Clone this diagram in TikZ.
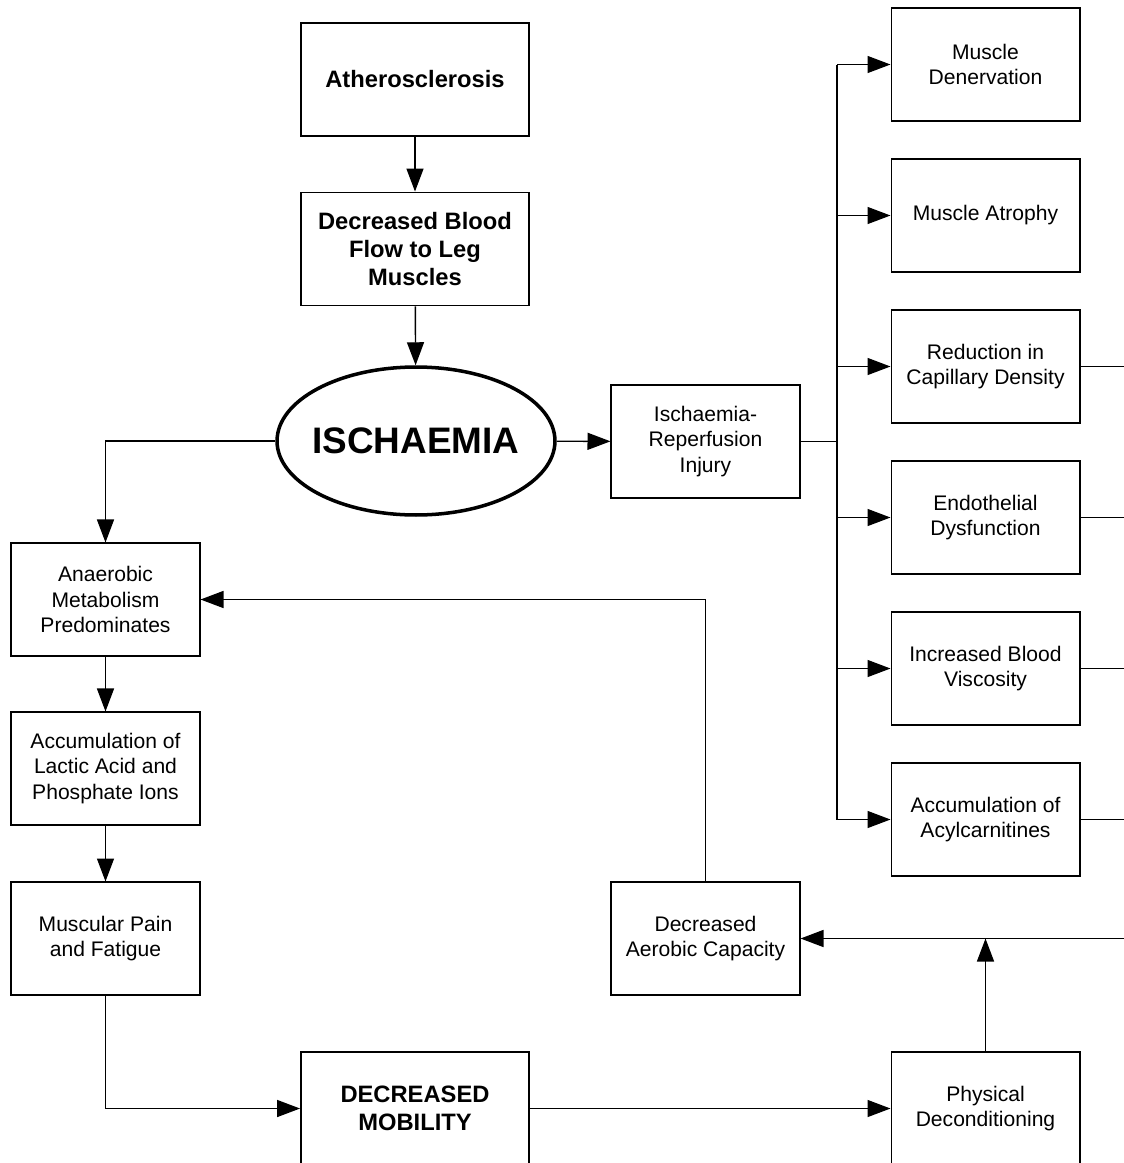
\documentclass[tikz,border=0pt]{standalone}
\usepackage{fontspec}
\setmainfont{Liberation Sans}
\usetikzlibrary{shapes.geometric,arrows.meta,positioning}

\begin{document}
\begin{tikzpicture}[x=0.02cm,y=-0.02cm,
  box/.style={rectangle,draw,line width=0.6pt,minimum width=3.78cm,
    minimum height=2.26cm,align=center,inner sep=2pt,
    font=\fontsize{12}{14.4}\selectfont},
  bigbox/.style={rectangle,draw,line width=1.1pt,minimum width=4.56cm,
    minimum height=2.26cm,align=center,inner sep=2pt,
    font=\fontsize{13.5}{16.2}\selectfont\bfseries},
  arr/.style={-{Triangle[length=0.46cm,width=0.34cm]},line width=0.8pt},
  wire/.style={line width=0.8pt}
]
\useasboundingbox (0,0) rectangle (1124,1163);
\clip (0,0) rectangle (1124,1163);

% main chain
\node[bigbox] (ath)  at (415,79.5)  {Atherosclerosis};
\node[bigbox] (dbf)  at (415,249)   {Decreased Blood\\Flow to Leg\\Muscles};
\node[ellipse,draw,line width=2pt,minimum width=5.56cm,minimum height=2.96cm,
  inner sep=0pt,font=\fontsize{21}{25}\selectfont\bfseries]
  (isc) at (416,441) {\makebox[0pt]{ISCHAEMIA}};
\node[box] (iri)  at (705.5,441.5) {Ischaemia-\\Reperfusion\\Injury};

% right column
\node[box] (mden) at (985.5,64.5)  {Muscle\\Denervation};
\node[box] (matr) at (985.5,215.5) {Muscle Atrophy};
\node[box] (rcd)  at (985.5,366.5) {Reduction in\\Capillary Density};
\node[box] (endo) at (985.5,517.5) {Endothelial\\Dysfunction};
\node[box] (ibv)  at (985.5,668.5) {Increased Blood\\Viscosity};
\node[box] (acyl) at (985.5,819.5) {Accumulation of\\Acylcarnitines};

% left column
\node[box] (anae) at (105.5,599.5) {Anaerobic\\Metabolism\\Predominates};
\node[box] (lact) at (105.5,768.5) {Accumulation of\\Lactic Acid and\\Phosphate Ions};
\node[box] (pain) at (105.5,938.5) {Muscular Pain\\and Fatigue};
\node[box] (dac)  at (705.5,938.5) {Decreased\\Aerobic Capacity};

% bottom row
\node[bigbox] (dmob) at (415,1108.5) {DECREASED\\MOBILITY};
\node[box] (pdec) at (985.5,1108.5) {Physical\\Deconditioning};

\coordinate (bus) at (837,441.5);
\coordinate (rin) at (1140,938.5);

\draw[arr] (ath) -- (dbf);
\draw[arr] (dbf) -- (isc);
\draw[arr] (isc) -- (iri);
\draw[wire] (iri.east) -- (bus);
\draw[wire] (bus |- mden.west) -- (bus |- acyl.west);
\foreach \n in {mden,matr,rcd,endo,ibv,acyl}
  \draw[arr] (bus |- \n.west) -- (\n.west);
\foreach \n in {rcd,endo,ibv,acyl}
  \draw[wire] (\n.east) -- (\n.east -| rin);

\draw[arr] (isc.west) -| (anae.north);
\draw[arr] (anae) -- (lact);
\draw[arr] (lact) -- (pain);
\draw[arr] (pain.south) |- (dmob.west);
\draw[arr] (dmob) -- (pdec);
\draw[arr] (pdec.north) -- (pdec.north |- rin);
\draw[arr] (rin) -- (dac.east);
\draw[arr] (dac.north) |- (anae.east);
\end{tikzpicture}
\end{document}
